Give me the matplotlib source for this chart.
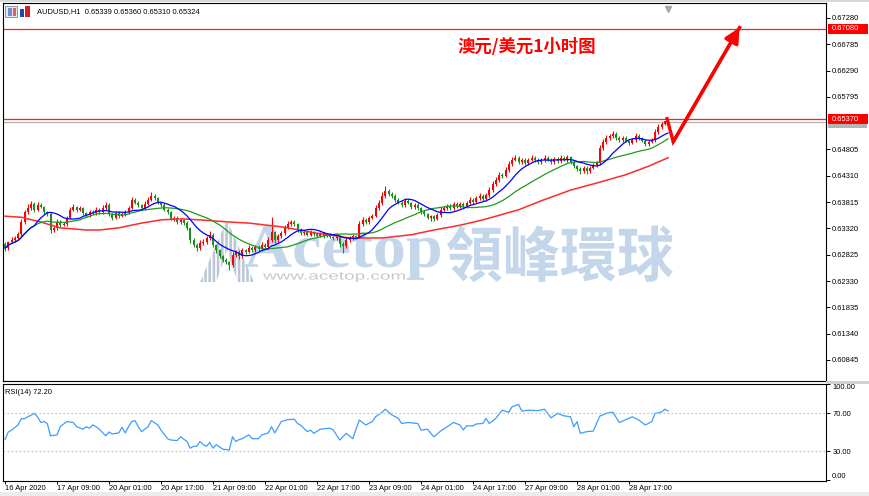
import numpy as np
import pandas as pd
import matplotlib
matplotlib.use("Agg")
import matplotlib.pyplot as plt
from matplotlib.font_manager import FontProperties
from matplotlib.patches import PathPatch, Polygon, Rectangle
from matplotlib.textpath import TextPath
from matplotlib.transforms import Affine2D, IdentityTransform, blended_transform_factory

W, H = 870, 496          # output size in pixels
PIP = 0.0001

symbol = "AUDUSD,H1"
title_cn = "澳元/美元1小时图"

# H1 closes, one per bar (16 Apr 17:00 .. 29 Apr 05:00)
closes = [
    0.6295, 0.6306, 0.6310, 0.6314, 0.6321, 0.6344, 0.6363, 0.6370, 0.6378, 0.6367,
    0.6376, 0.6372, 0.6363, 0.6359, 0.6329, 0.6333, 0.6344, 0.6338, 0.6340, 0.6352,
    0.6367, 0.6372, 0.6367, 0.6370, 0.6361, 0.6357, 0.6363, 0.6361, 0.6367, 0.6363,
    0.6370, 0.6376, 0.6359, 0.6352, 0.6361, 0.6355, 0.6359, 0.6363, 0.6370, 0.6386,
    0.6380, 0.6376, 0.6370, 0.6378, 0.6386, 0.6393, 0.6389, 0.6380, 0.6376, 0.6367,
    0.6363, 0.6350, 0.6352, 0.6344, 0.6348, 0.6342, 0.6333, 0.6310, 0.6301, 0.6295,
    0.6305, 0.6306, 0.6314, 0.6320, 0.6301, 0.6291, 0.6280, 0.6273, 0.6269, 0.6263,
    0.6282, 0.6288, 0.6280, 0.6291, 0.6288, 0.6295, 0.6291, 0.6297, 0.6293, 0.6301,
    0.6297, 0.6310, 0.6325, 0.6310, 0.6318, 0.6323, 0.6333, 0.6340, 0.6344, 0.6340,
    0.6329, 0.6323, 0.6325, 0.6320, 0.6325, 0.6321, 0.6318, 0.6323, 0.6318, 0.6320,
    0.6316, 0.6314, 0.6318, 0.6303, 0.6299, 0.6310, 0.6314, 0.6318, 0.6316, 0.6340,
    0.6348, 0.6344, 0.6352, 0.6355, 0.6370, 0.6380, 0.6393, 0.6402, 0.6397, 0.6393,
    0.6386, 0.6380, 0.6376, 0.6384, 0.6380, 0.6372, 0.6376, 0.6370, 0.6363, 0.6359,
    0.6352, 0.6355, 0.6350, 0.6357, 0.6367, 0.6370, 0.6374, 0.6370, 0.6378, 0.6374,
    0.6378, 0.6374, 0.6380, 0.6386, 0.6382, 0.6389, 0.6393, 0.6387, 0.6395, 0.6404,
    0.6416, 0.6423, 0.6433, 0.6431, 0.6442, 0.6453, 0.6461, 0.6465, 0.6457, 0.6461,
    0.6455, 0.6461, 0.6465, 0.6461, 0.6457, 0.6461, 0.6465, 0.6461, 0.6457, 0.6463,
    0.6459, 0.6465, 0.6461, 0.6466, 0.6457, 0.6449, 0.6444, 0.6440, 0.6446, 0.6440,
    0.6446, 0.6451, 0.6455, 0.6483, 0.6495, 0.6502, 0.6506, 0.6510, 0.6502, 0.6498,
    0.6502, 0.6497, 0.6493, 0.6498, 0.6506, 0.6502, 0.6497, 0.6491, 0.6495, 0.6498,
    0.6514, 0.6523, 0.6529, 0.65339, 0.65324,
]
first_open = 0.6302

# wick lengths in pips above / below the body
up_wick = [
    4, 3, 5, 3, 4, 6, 4, 8, 5, 3, 6, 4, 3, 2, 3, 4, 5, 3, 4, 3,
    5, 6, 3, 4, 3, 2, 4, 3, 5, 3, 6, 5, 3, 2, 4, 3, 3, 4, 5, 6,
    4, 3, 2, 5, 6, 8, 4, 3, 2, 3, 4, 2, 3, 4, 3, 2, 3, 2, 3, 4,
    5, 6, 4, 7, 3, 2, 3, 2, 3, 2, 5, 4, 3, 4, 3, 5, 3, 4, 3, 5,
    4, 6, 29, 3, 4, 5, 6, 5, 4, 3, 2, 3, 4, 3, 4, 3, 2, 3, 3, 2,
    3, 2, 4, 2, 3, 5, 4, 3, 2, 5, 6, 3, 4, 5, 6, 5, 7, 10, 4, 3,
    3, 4, 3, 5, 3, 2, 4, 3, 2, 3, 2, 3, 2, 4, 5, 4, 3, 4, 3, 4,
    3, 4, 3, 5, 3, 4, 5, 3, 4, 5, 6, 5, 6, 4, 5, 6, 5, 6, 4, 3,
    3, 4, 5, 3, 4, 3, 5, 4, 3, 4, 3, 5, 3, 4, 2, 3, 2, 3, 4, 3,
    4, 5, 4, 6, 5, 5, 4, 6, 3, 3, 4, 3, 2, 4, 5, 3, 2, 3, 3, 4,
    5, 5, 4, 1, 2.1,
]
down_wick = [
    5, 3, 2, 3, 2, 3, 4, 3, 3, 4, 3, 2, 3, 4, 6, 3, 4, 3, 2, 3,
    2, 3, 4, 3, 4, 3, 3, 2, 3, 4, 3, 4, 3, 4, 3, 3, 2, 3, 3, 2,
    3, 4, 3, 3, 2, 3, 4, 3, 4, 3, 4, 3, 4, 3, 4, 3, 4, 5, 4, 5,
    3, 4, 3, 3, 4, 5, 4, 5, 4, 9, 3, 4, 5, 3, 4, 3, 4, 3, 4, 3,
    4, 3, 3, 5, 3, 4, 3, 3, 4, 3, 4, 3, 4, 3, 3, 4, 3, 3, 4, 3,
    3, 4, 3, 6, 14, 3, 4, 3, 4, 3, 3, 4, 3, 3, 2, 3, 4, 3, 4, 3,
    4, 3, 4, 3, 3, 4, 3, 4, 3, 4, 3, 7, 4, 3, 3, 3, 4, 3, 4, 3,
    3, 4, 3, 3, 4, 3, 3, 4, 3, 3, 3, 4, 3, 4, 3, 3, 4, 3, 4, 3,
    4, 3, 3, 4, 3, 3, 4, 3, 4, 3, 4, 3, 3, 4, 4, 3, 4, 6, 4, 5,
    4, 3, 4, 3, 3, 4, 3, 3, 4, 3, 4, 3, 4, 3, 3, 4, 3, 4, 3, 3,
    3, 4, 3, 3, 1.4,
]

# slow (red) moving average, read at a few bars
red_ma_bars = [0, 5, 11, 17, 25, 29, 35, 42, 48, 54, 60, 69, 75, 85, 96, 106, 116, 125,
               132, 140, 147, 158, 165, 174, 183, 191, 198, 204]
red_ma_vals = [0.6355, 0.6353, 0.6344, 0.6333, 0.6329, 0.6329, 0.6333, 0.6342, 0.6348,
               0.6350, 0.6348, 0.6344, 0.6342, 0.6335, 0.6323, 0.6314, 0.6314, 0.6320,
               0.6329, 0.6338, 0.6348, 0.6367, 0.6384, 0.6404, 0.6419, 0.6433, 0.6449, 0.6465]

# RSI(14) read at bars
rsi_bars = [0, 1, 2, 4, 5, 6, 7, 9, 10, 11, 12, 13, 14, 16, 17, 19, 21, 22, 24, 25,
            26, 27, 28, 29, 31, 32, 33, 35, 36, 37, 38, 39, 40, 41, 42, 44, 45, 47, 48, 50,
            51, 53, 54, 56, 57, 58, 59, 60, 61, 62, 63, 64, 65, 67, 68, 69, 70, 71, 72, 73,
            75, 76, 78, 79, 81, 82, 83, 85, 87, 89, 90, 91, 93, 94, 95, 97, 100, 101, 103, 105,
            107, 109, 111, 113, 114, 116, 117, 119, 121, 122, 124, 127, 128, 130, 131, 132, 134, 138, 140, 141,
            142, 144, 145, 147, 148, 149, 151, 153, 155, 156, 158, 159, 161, 164, 166, 168, 170, 172, 174, 175,
            176, 177, 179, 181, 182, 183, 185, 187, 189, 191, 193, 195, 197, 199, 200, 202, 203, 204]
rsi_vals = [42, 50, 52, 57.5, 64, 64, 66, 69.6, 66, 60, 61, 59, 46, 47, 55.6, 61, 60, 55.6, 53, 55.6,
            54, 57.5, 55.6, 53, 46, 50, 48, 49, 55, 49, 55.6, 61, 62, 55.6, 50.3, 55.6, 62, 57.5, 52, 43,
            41.6, 41, 45, 40, 33, 35, 35, 40, 36.7, 35, 39, 33, 36.7, 32, 31.6, 31, 45, 40, 42, 43,
            47, 43, 43, 47, 49, 55.6, 49, 61, 63, 63.5, 59, 57, 50.4, 52, 48.6, 53, 54, 52, 41.6, 48.6,
            43, 62.6, 57.4, 61, 66, 70.7, 74, 68, 64.4, 59, 60, 59, 52, 53, 48.6, 45, 51, 60, 57.4, 52,
            56.5, 56.5, 58.5, 59, 64.4, 59, 64.4, 73, 70.7, 76.6, 79, 72, 73, 72.5, 74, 65, 69.6, 67, 66, 55.6,
            61, 48.6, 50.4, 51, 59, 66.7, 69.6, 71, 60, 63, 66, 62.6, 57.4, 61, 69.6, 71, 74, 72.2]
assert len(rsi_bars) == len(rsi_vals)

time_labels = ["16 Apr 2020", "17 Apr 09:00", "20 Apr 01:00", "20 Apr 17:00", "21 Apr 09:00",
               "22 Apr 01:00", "22 Apr 17:00", "23 Apr 09:00", "24 Apr 01:00", "24 Apr 17:00",
               "27 Apr 09:00", "28 Apr 01:00", "28 Apr 17:00"]
price_ticks = [0.67280, 0.66785, 0.66290, 0.65795, 0.64805, 0.64310, 0.63815, 0.63320,
               0.62825, 0.62330, 0.61835, 0.61340, 0.60845]
level_prices = [0.67080, 0.65370]
arrow_bars = [203.7, 205.6, 226.0]
arrow_prices = [0.65385, 0.64950, 0.67100]

plt.rcParams['font.family'] = ['Liberation Sans', 'DejaVu Sans']
FS = 5.4

c = np.array(closes)
o = np.concatenate([[first_open], c[:-1]])
hi = np.maximum(o, c) + np.array(up_wick) * PIP
lo = np.minimum(o, c) - np.array(down_wick) * PIP
x = np.arange(len(c))
ma_fast = pd.Series(c).rolling(10, min_periods=1).mean()
ma_mid = pd.Series(c).rolling(24, min_periods=1).mean()

fig = plt.figure(figsize=(W / 100, H / 100), dpi=100)
fig.patch.set_facecolor('white')

def fx(px): return px / W
def fy(py): return 1 - py / H

ax = fig.add_axes([fx(3), fy(381), (826 - 3) / W, (381 - 3) / H])
ax2 = fig.add_axes([fx(3), fy(481), (826 - 3) / W, (481 - 384) / H])
XL = (-0.62, 252.6)

# ---- watermark (pixel boxes) ----
def fit_text(s, family, box, color, weight="normal"):
    x0, y0, x1, y1 = box
    tp = TextPath((0, 0), s, size=100, prop=FontProperties(family=family, weight=weight))
    bb = tp.get_extents()
    tr = (Affine2D().translate(-bb.x0, -bb.y0)
          .scale((x1 - x0) / bb.width, (y1 - y0) / bb.height)
          .translate(x0, H - y1))
    ax.add_artist(PathPatch(tr.transform_path(tp), fc=color, ec="none",
                            transform=IdentityTransform(), zorder=0.5))

wm = '#c4d6ea'
fit_text("Acetop", "Liberation Serif", (245, 226, 440, 280), wm, "bold")
fit_text("領峰環球", ["Noto Sans CJK TC"], (447, 225, 673, 282), wm, "bold")
fit_text("www.acetop.com", "Liberation Sans", (263, 272, 405, 282), '#c9c9c9')

# striped "A" logo
ax_apex, base_l, base_r, ytop, ybot = 227, 200, 254, 220, 282
for xs in np.arange(base_l, base_r, 4.2):
    xa, xb = xs, xs + 2.6
    def edge(xv):
        return ytop + abs(xv - ax_apex) * (ybot - ytop) / (ax_apex - base_l)
    pts = [(xa, H - ybot), (xb, H - ybot), (xb, H - edge(xb)), (xa, H - edge(xa))]
    ax.add_artist(Polygon(pts, closed=True, fc='#b9c7d6', ec='none',
                          transform=IdentityTransform(), zorder=0.5))
ax.add_artist(Polygon([(227, H - 250), (216, H - 283), (238, H - 283)], closed=True, fc='white',
                      ec='none', transform=IdentityTransform(), zorder=0.6))

# ---- candles ----
up = c > o
cols = np.where(up, '#ff0000', '#1e8c1e')
ax.vlines(x, lo, hi, colors=cols, lw=0.8, zorder=3)
ax.bar(x, np.maximum(np.abs(c - o), 0.00004), bottom=np.minimum(o, c), width=0.62,
       color=cols, zorder=4)

ax.plot(red_ma_bars, red_ma_vals, color='#ff2a2a', lw=1.1, zorder=5)
ax.plot(x, ma_mid, color='#1e9a1e', lw=0.9, zorder=5)
ax.plot(x, ma_fast, color='#0000ff', lw=0.9, zorder=5)

for p in level_prices:
    ax.axhline(p, color='#ff2020', lw=0.9, zorder=2)
ax.axhline(c[-1], color='#b0b0b0', lw=0.9, zorder=1.9)

# arrow
ax.plot(arrow_bars, arrow_prices, color='red', lw=2.4, solid_joinstyle='miter', zorder=7)
ax.annotate('', xy=(arrow_bars[2], arrow_prices[2]), xytext=(arrow_bars[1], arrow_prices[1]),
            arrowprops=dict(arrowstyle='-|>,head_length=0.9,head_width=0.45', color='red',
                            lw=2.4, shrinkA=0, shrinkB=0), zorder=7)

# chart shift marker
ax.plot([x[-1]], [0.985], marker='v', color='#a8a8a8', ms=4,
        transform=blended_transform_factory(ax.transData, ax.transAxes), clip_on=False)

ax.set_xlim(*XL)
ax.set_ylim(0.60448, 0.67562)
ax.set_xticks([])
ax.yaxis.tick_right()
ax.set_yticks(price_ticks)
ax.set_yticklabels([f"{v:.5f}" for v in price_ticks])
ax.tick_params(axis='y', length=3, width=0.7, pad=1.5, labelsize=FS, colors='black')
for s in ax.spines.values():
    s.set_linewidth(0.8)
    s.set_color('black')

# grey bid strip (behind) and red level labels
bt = blended_transform_factory(ax.transAxes, ax.transData)
ax.add_artist(Rectangle((1.0025, c[-1] - 0.0011), 0.047, 0.0016, transform=bt,
                        fc='#b4b4b4', ec='none', clip_on=False, zorder=7))
for p in level_prices:
    ax.add_artist(Rectangle((1.0025, p - 0.00094), 0.048, 0.00188, transform=bt,
                            fc='#ff0000', ec='none', clip_on=False, zorder=8))
    ax.text(1.0065, p, f"{p:.5f}", transform=bt, ha='left', va='center', fontsize=FS,
            color='white', clip_on=False, zorder=9)

# ---- RSI ----
ax2.plot(rsi_bars, rsi_vals, color='#3d9dff', lw=0.9)
for lv in (70, 30):
    ax2.axhline(lv, color='#bdbdbd', lw=0.9, ls=(0, (1.2, 2.0)))
ax2.set_xlim(*XL)
ax2.set_ylim(-1.5, 100.5)
ax2.yaxis.tick_right()
ax2.set_yticks([0, 30, 70, 100])
ax2.set_yticklabels(['0.00', '30.00', '70.00', '100.00'])
ax2.tick_params(axis='y', length=3, width=0.7, pad=1.5, labelsize=FS)
tl = ax2.get_yticklabels()
tl[0].set_va('bottom')
tl[-1].set_va('top')
ax2.set_xticks(np.arange(len(time_labels)) * 16)
ax2.set_xticklabels(time_labels, ha='left')
ax2.tick_params(axis='x', length=2.5, width=0.7, pad=0.5, labelsize=FS)
for s in ax2.spines.values():
    s.set_linewidth(0.8)
    s.set_color('black')

# ---- texts ----
fig.text(fx(37), fy(12), f"{symbol}  {o[-1]:.5f} {hi[-1]:.5f} {lo[-1]:.5f} {c[-1]:.5f}",
         fontsize=FS, va='center', ha='left')
fig.text(fx(5), fy(392), f"RSI(14) {rsi_vals[-1]:.2f}", fontsize=FS, va='center', ha='left')
fig.text(fx(457), fy(47), title_cn, fontsize=12.5, color='#ff0000', fontweight='bold',
         va='center', ha='left', family=['Noto Sans CJK SC', 'DejaVu Sans'])

# header icons and window frame bits
def px_rect(x0, y0, x1, y1, **kw):
    fig.add_artist(Rectangle((x0, H - y1), x1 - x0, y1 - y0, transform=IdentityTransform(), **kw))

px_rect(5, 6, 17, 17, fc='#e3e8f0', ec='#7c8aa2', lw=0.6)
px_rect(8, 8, 11.5, 16, fc='#6f8fd0', ec='none')
px_rect(12.5, 8, 15.5, 16, fc='#e06060', ec='none')
px_rect(20, 9, 24, 17, fc='#2240c8', ec='none')
px_rect(25, 6, 30, 17, fc='#d42020', ec='none')
px_rect(0, 492, W, H, fc='#ececec', ec='none')
px_rect(0, 0, W, 2, fc='#d8d8d8', ec='none')
px_rect(826, 381, W, 384, fc='#d0d0d0', ec='none')

fig.savefig("out.png", dpi=100, facecolor='white')
